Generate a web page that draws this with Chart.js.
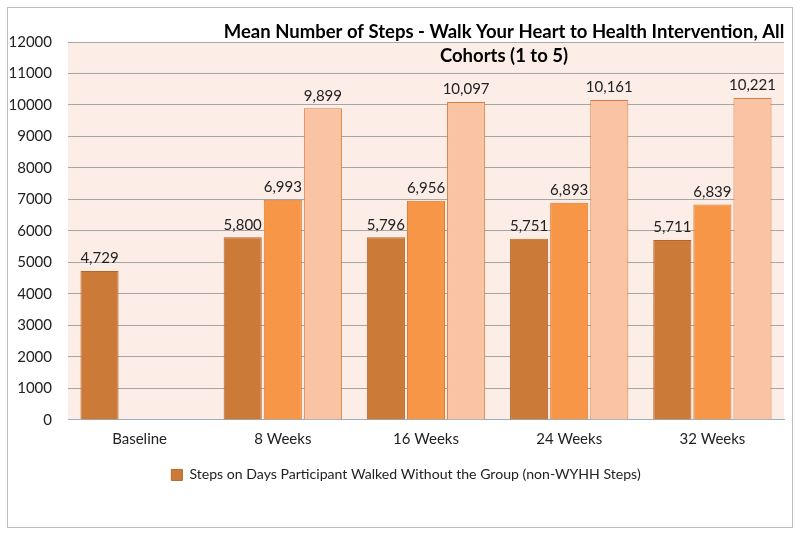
<!DOCTYPE html>
<html>
<head>
<meta charset="utf-8">
<script src="https://cdn.jsdelivr.net/npm/chart.js@4.4.0/dist/chart.umd.min.js"></script>
<style>
  html, body { margin: 0; padding: 0; background: #fff; }
  #wrap { width: 800px; height: 536px; position: relative; }
</style>
</head>
<body>
<div id="wrap"><canvas id="c" width="800" height="536"></canvas></div>
<script>
const categories = ['Baseline', '8 Weeks', '16 Weeks', '24 Weeks', '32 Weeks'];
const nonGroupSteps = [4729, 5800, 5796, 5751, 5711];
const allDaysSteps = [null, 6993, 6956, 6893, 6839];
const groupDaysSteps = [null, 9899, 10097, 10161, 10221];
const yTicks = [0, 1000, 2000, 3000, 4000, 5000, 6000, 7000, 8000, 9000, 10000, 11000, 12000];
const titleLines = ['Mean Number of Steps - Walk Your Heart to Health Intervention, All', 'Cohorts (1 to 5)'];

const FONT = 'Lato, "Liberation Sans", sans-serif';

const decor = {
  id: 'decor',
  afterLayout(chart) {
    const lg = chart.legend;
    if (lg) { lg.left += 14; lg.right += 14; }
  },
  beforeDraw(chart) {
    const { ctx, chartArea: a } = chart;
    ctx.save();
    ctx.fillStyle = '#ffffff';
    ctx.fillRect(0, 0, chart.width, chart.height);
    ctx.strokeStyle = '#bfbfbf';
    ctx.lineWidth = 1;
    ctx.strokeRect(7.5, 7.5, 785, 520);
    ctx.fillStyle = '#fcede6';
    ctx.fillRect(a.left, a.top, a.right - a.left, a.bottom - a.top);
    ctx.restore();
  },
  afterDraw(chart) {
    const { ctx } = chart;
    ctx.save();
    ctx.fillStyle = '#000';
    ctx.font = 'bold 18.5px ' + FONT;
    ctx.textAlign = 'center';
    ctx.textBaseline = 'middle';
    ctx.fillText(titleLines[0], 504, 32);
    ctx.fillText(titleLines[1], 504, 56);
    ctx.restore();
  },
  afterDatasetsDraw(chart) {
    const { ctx } = chart;
    ctx.save();
    ctx.fillStyle = '#222';
    ctx.font = '15px ' + FONT;
    ctx.textAlign = 'center';
    ctx.textBaseline = 'bottom';
    chart.data.datasets.forEach((ds, i) => {
      const meta = chart.getDatasetMeta(i);
      meta.data.forEach((bar, j) => {
        const v = ds.data[j];
        if (v === null || v === undefined) return;
        ctx.fillText(v.toLocaleString('en-US'), bar.x, bar.y - 5);
      });
    });
    ctx.restore();
  }
};

new Chart(document.getElementById('c'), {
  type: 'bar',
  data: {
    labels: categories,
    datasets: [
      { label: 'Steps on Days Participant Walked Without the Group (non-WYHH Steps)', data: nonGroupSteps,
        backgroundColor: '#cb7a37', borderColor: '#b5662a', borderWidth: 1 },
      { label: 'All days', data: allDaysSteps,
        backgroundColor: '#f79646', borderColor: '#d77a30', borderWidth: 1 },
      { label: 'Group days', data: groupDaysSteps,
        backgroundColor: '#fac3a3', borderColor: '#d47f45', borderWidth: 1 }
    ]
  },
  options: {
    responsive: false,
    animation: false,
    devicePixelRatio: 1,
    layout: { padding: { left: 0, right: 16, top: 42, bottom: 44 } },
    datasets: { bar: { categoryPercentage: 0.84, barPercentage: 0.95, skipNull: false } },
    scales: {
      x: {
        grid: { display: false, drawTicks: false },
        border: { display: true, color: '#9aaec4', width: 1 },
        ticks: { color: '#222', font: { family: FONT, size: 15 }, padding: 10 }
      },
      y: {
        min: 0, max: 12000,
        afterFit(scale) { scale.width = 68; },
        afterBuildTicks(scale) { scale.ticks = yTicks.map(v => ({ value: v })); },
        grid: { color: '#a6a6a6', lineWidth: 1, drawTicks: false },
        border: { display: false },
        ticks: { color: '#222', font: { family: FONT, size: 15 }, padding: 16, callback: v => String(v) }
      }
    },
    plugins: {
      legend: {
        position: 'bottom',
        labels: {
          color: '#222', font: { family: FONT, size: 14.1 }, boxWidth: 11, boxHeight: 11, padding: 10,
          filter: item => item.datasetIndex === 0
        }
      },
      title: { display: false },
      tooltip: { enabled: false }
    }
  },
  plugins: [decor]
});
</script>
</body>
</html>
